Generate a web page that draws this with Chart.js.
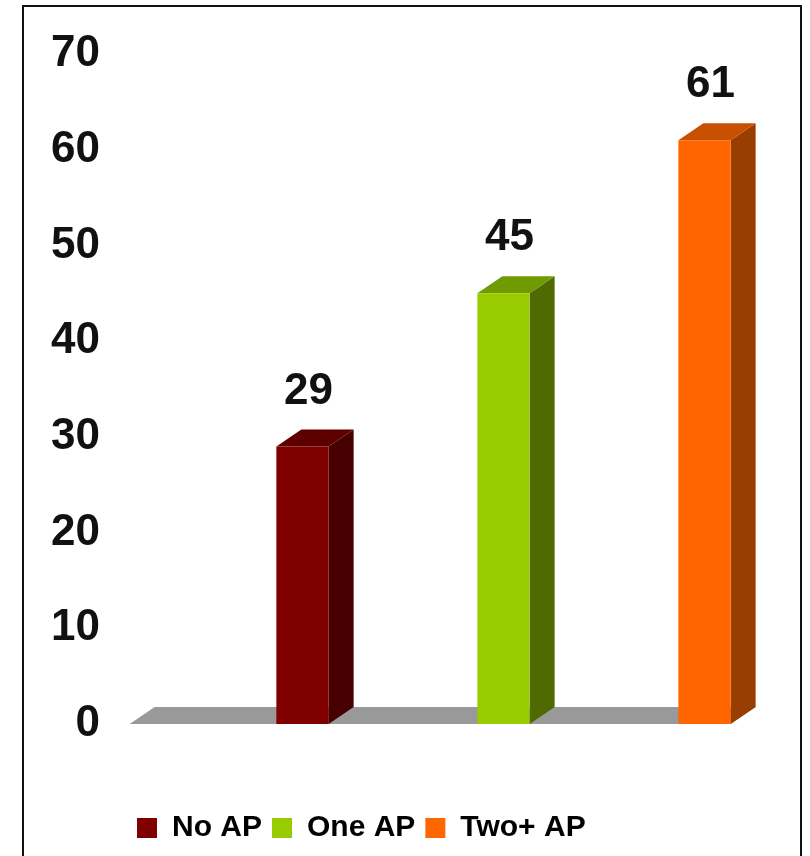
<!DOCTYPE html>
<html>
<head>
<meta charset="utf-8">
<script src="https://cdn.jsdelivr.net/npm/chart.js@4.4.1/dist/chart.umd.min.js"></script>
<style>
  html, body { margin: 0; padding: 0; background: #fff; }
  #wrap { width: 810px; height: 856px; position: relative; }
</style>
</head>
<body>
<div id="wrap"><canvas id="chart" width="810" height="856"></canvas></div>
<script>
/* ---- Data ---- */
const categories = ['No AP', 'One AP', 'Two+ AP'];
const values = [29, 45, 61];
const yTicks = [0, 10, 20, 30, 40, 50, 60, 70];

/* ---- Styles ---- */
const FRONT = ['#800000', '#99cc00', '#ff6600'];
const SIDE = ['#470000', '#4f6a00', '#9a3d00'];
const TOP = ['#5e0000', '#6f9a00', '#c85000'];
const FLOOR = '#999999';
const DEPTH = { dx: 25, dy: 17 };
const FONT = '"Liberation Sans", Arial, sans-serif';

/**
 * Draws the floor plate and the side / top faces behind the bars,
 * then the value labels and the outer frame on top.
 */
const pseudo3d = {
  id: 'pseudo3d',
  beforeDatasetsDraw(chart) {
    const { ctx } = chart;
    const xs = chart.scales.x;
    const ys = chart.scales.y;
    const base = ys.getPixelForValue(0);
    const meta = chart.getDatasetMeta(0);
    const cat = xs.width / categories.length;

    // floor
    const last = meta.data[meta.data.length - 1];
    const fl = xs.left - 0.36 * cat;
    const fr = last.x + last.width / 2;
    ctx.save();
    ctx.fillStyle = FLOOR;
    ctx.beginPath();
    ctx.moveTo(fl, base);
    ctx.lineTo(fr, base);
    ctx.lineTo(fr + DEPTH.dx, base - DEPTH.dy);
    ctx.lineTo(fl + DEPTH.dx, base - DEPTH.dy);
    ctx.closePath();
    ctx.fill();

    // side and top faces
    meta.data.forEach((bar, i) => {
      const x0 = bar.x - bar.width / 2;
      const x1 = bar.x + bar.width / 2;
      const y = bar.y;
      ctx.fillStyle = SIDE[i];
      ctx.beginPath();
      ctx.moveTo(x1, y);
      ctx.lineTo(x1 + DEPTH.dx, y - DEPTH.dy);
      ctx.lineTo(x1 + DEPTH.dx, base - DEPTH.dy);
      ctx.lineTo(x1, base);
      ctx.closePath();
      ctx.fill();
      ctx.fillStyle = TOP[i];
      ctx.beginPath();
      ctx.moveTo(x0, y);
      ctx.lineTo(x1, y);
      ctx.lineTo(x1 + DEPTH.dx, y - DEPTH.dy);
      ctx.lineTo(x0 + DEPTH.dx, y - DEPTH.dy);
      ctx.closePath();
      ctx.fill();
    });
    ctx.restore();
  },
  afterDatasetsDraw(chart) {
    const { ctx } = chart;
    const meta = chart.getDatasetMeta(0);
    ctx.save();
    ctx.fillStyle = '#111';
    ctx.font = 'bold 44px ' + FONT;
    ctx.textAlign = 'center';
    ctx.textBaseline = 'middle';
    meta.data.forEach((bar, i) => {
      ctx.fillText(String(values[i]), bar.x + 6, bar.y - 55);
    });
    ctx.restore();
  },
  afterDraw(chart) {
    const { ctx } = chart;
    ctx.save();
    ctx.strokeStyle = '#111';
    ctx.lineWidth = 2;
    ctx.strokeRect(23, 6, 778, 860);
    ctx.restore();
  },
};

new Chart(document.getElementById('chart'), {
  type: 'bar',
  data: {
    labels: categories,
    datasets: [{
      data: values,
      backgroundColor: FRONT,
      borderWidth: 0,
      barPercentage: 0.26,
      categoryPercentage: 1,
    }],
  },
  options: {
    responsive: false,
    animation: false,
    layout: { padding: { top: 54, left: 127, right: 5, bottom: 3 } },
    plugins: {
      tooltip: { enabled: false },
      legend: {
        position: 'bottom',
        align: 'start',
        labels: {
          color: '#111',
          boxWidth: 20,
          boxHeight: 20,
          padding: 10,
          font: { family: FONT, size: 30, weight: 'bold' },
          generateLabels: () => categories.map((c, i) => ({
            text: c,
            fillStyle: FRONT[i],
            strokeStyle: FRONT[i],
            lineWidth: 0,
            index: i,
          })),
        },
        onClick: () => {},
      },
    },
    scales: {
      x: {
        grid: { display: false, drawTicks: false },
        border: { display: false },
        ticks: { display: false },
        afterFit: (s) => { s.height = 79; },
      },
      y: {
        min: yTicks[0],
        max: yTicks[yTicks.length - 1],
        grid: { display: false, drawTicks: false },
        border: { display: false },
        afterFit: (s) => { s.width = 75; },
        ticks: {
          stepSize: yTicks[1] - yTicks[0],
          mirror: true,
          crossAlign: 'far',
          padding: -151,
          color: '#111',
          font: { family: FONT, size: 44, weight: 'bold' },
        },
      },
    },
  },
  plugins: [pseudo3d],
});
</script>
</body>
</html>
